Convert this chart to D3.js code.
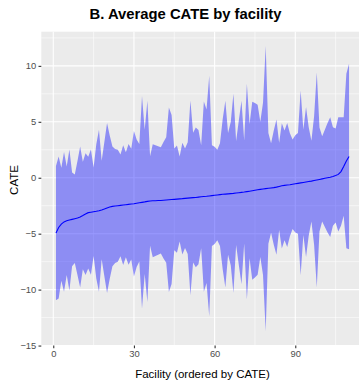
<!DOCTYPE html>
<html>
<head>
<meta charset="utf-8">
<script src="https://cdn.jsdelivr.net/npm/d3@7"></script>
<style>
  html, body { margin: 0; padding: 0; background: #fff; }
  svg { display: block; font-family: "Liberation Sans", Arial, sans-serif; }
</style>
</head>
<body>
<svg id="chart" width="359" height="382"></svg>
<script>
// Facility-level average CATE (sorted) and half-width of its interval
const cate = [
  -4.95,-4.45,-4.15,-3.95,-3.85,-3.78,-3.72,-3.66,-3.60,-3.50,
  -3.38,-3.25,-3.12,-3.08,-3.04,-3.00,-2.95,-2.88,-2.80,-2.70,
  -2.62,-2.56,-2.53,-2.50,-2.47,-2.44,-2.41,-2.38,-2.35,-2.32,
  -2.28,-2.24,-2.20,-2.16,-2.11,-2.08,-2.06,-2.05,-2.04,-2.03,
  -2.01,-1.99,-1.97,-1.95,-1.93,-1.91,-1.89,-1.87,-1.84,-1.82,
  -1.80,-1.78,-1.76,-1.73,-1.70,-1.68,-1.66,-1.63,-1.60,-1.57,
  -1.54,-1.51,-1.48,-1.46,-1.44,-1.42,-1.40,-1.37,-1.34,-1.31,
  -1.28,-1.24,-1.20,-1.16,-1.12,-1.08,-1.04,-1.00,-0.97,-0.94,
  -0.91,-0.88,-0.84,-0.78,-0.72,-0.68,-0.65,-0.62,-0.58,-0.54,
  -0.50,-0.46,-0.42,-0.38,-0.34,-0.30,-0.25,-0.20,-0.15,-0.10,
  -0.05, 0.00, 0.05, 0.12, 0.20, 0.30, 0.55, 1.00, 1.50, 1.90
];
const ciHalf = [
  6.00,6.35,5.05,6.25,4.85,6.30,4.20,3.95,5.10,6.30,
  4.80,5.45,5.00,5.60,3.95,6.00,7.25,4.40,6.00,7.60,
  6.40,5.35,5.10,5.00,4.55,5.35,4.70,5.40,4.95,6.50,
  5.70,5.25,9.50,6.45,9.00,4.00,5.05,4.95,4.85,4.75,
  5.20,5.60,8.25,7.55,4.55,4.80,3.80,5.00,4.45,5.00,
  8.70,5.80,6.25,6.00,4.60,8.50,7.75,10.75,4.50,4.35,
  4.05,4.60,6.70,8.35,5.45,6.40,8.90,4.65,6.45,8.20,
  4.60,9.65,6.00,7.95,7.80,7.60,6.05,7.70,12.75,4.95,
  4.00,5.10,6.05,3.90,5.60,4.90,5.55,4.60,4.00,4.35,
  4.50,8.25,4.70,6.70,4.85,3.60,5.75,9.60,4.65,3.80,
  4.35,4.90,5.35,4.40,4.20,5.10,4.85,4.40,7.80,8.30
];
const facility = d3.range(1, cate.length + 1);
const xTicks = [0, 30, 60, 90];
const xMinor = [15, 45, 75, 105];
const yTicks = [-15, -10, -5, 0, 5, 10];
const yMinor = [-12.5, -7.5, -2.5, 2.5, 7.5, 12.5];
const titleText = "B. Average CATE by facility";
const xTitle = "Facility (ordered by CATE)";
const yTitle = "CATE";

const rows = facility.map((f, i) => ({
  f, est: cate[i], lo: cate[i] - ciHalf[i], hi: cate[i] + ciHalf[i]
}));

const svg = d3.select("#chart");
const panel = { left: 41.3, top: 31.7, bottom: 345.5 };

// ggplot-style 5% expansion on both axes
const xExt = d3.extent(facility);
const xPad = (xExt[1] - xExt[0]) * 0.05;
const x = d3.scaleLinear()
  .domain([xExt[0] - xPad, xExt[1] + xPad])
  .range([panel.left, panel.left + 119.9 * 2.689]);

const yLo = d3.min(rows, d => d.lo), yHi = d3.max(rows, d => d.hi);
const yPad = (yHi - yLo) * 0.05;
const y = d3.scaleLinear()
  .domain([yLo - yPad, yHi + yPad])
  .range([panel.bottom, panel.top]);

const pRight = x.range()[1];

svg.append("rect")
  .attr("x", panel.left).attr("y", panel.top)
  .attr("width", pRight - panel.left).attr("height", panel.bottom - panel.top)
  .attr("fill", "#EBEBEB");

const grid = svg.append("g");
grid.selectAll(".ymin").data(yMinor).join("line")
  .attr("x1", panel.left).attr("x2", pRight)
  .attr("y1", d => y(d)).attr("y2", d => y(d))
  .attr("stroke", "#fff").attr("stroke-width", 0.55);
grid.selectAll(".xmin").data(xMinor).join("line")
  .attr("y1", panel.top).attr("y2", panel.bottom)
  .attr("x1", d => x(d)).attr("x2", d => x(d))
  .attr("stroke", "#fff").attr("stroke-width", 0.55);
grid.selectAll(".ymaj").data(yTicks).join("line")
  .attr("x1", panel.left).attr("x2", pRight)
  .attr("y1", d => y(d)).attr("y2", d => y(d))
  .attr("stroke", "#fff").attr("stroke-width", 1.1);
grid.selectAll(".xmaj").data(xTicks).join("line")
  .attr("y1", panel.top).attr("y2", panel.bottom)
  .attr("x1", d => x(d)).attr("x2", d => x(d))
  .attr("stroke", "#fff").attr("stroke-width", 1.1);

// interval ribbon
svg.append("path")
  .datum(rows)
  .attr("d", d3.area().x(d => x(d.f)).y0(d => y(d.lo)).y1(d => y(d.hi)))
  .attr("fill", "#0000FF").attr("fill-opacity", 0.4);

// point estimates
svg.append("path")
  .datum(rows)
  .attr("d", d3.line().x(d => x(d.f)).y(d => y(d.est)))
  .attr("fill", "none").attr("stroke", "#0000FF").attr("stroke-width", 1.1);

const fmt = v => v < 0 ? "\u2212" + Math.abs(v) : String(v);

// y axis
const yAxis = svg.append("g").attr("transform", `translate(${panel.left},0)`)
  .call(d3.axisLeft(y).tickValues(yTicks).tickSize(2.8).tickPadding(2.2).tickFormat(fmt));
yAxis.select(".domain").remove();
yAxis.selectAll("line").attr("stroke", "#333").attr("stroke-width", 1.1);
yAxis.selectAll("text").attr("fill", "#4D4D4D").attr("font-size", "9.4px")
  .attr("font-family", "Liberation Sans, Arial, sans-serif");

// x axis
const xAxis = svg.append("g").attr("transform", `translate(0,${panel.bottom})`)
  .call(d3.axisBottom(x).tickValues(xTicks).tickSize(2.8).tickPadding(2.2).tickFormat(fmt));
xAxis.select(".domain").remove();
xAxis.selectAll("line").attr("stroke", "#333").attr("stroke-width", 1.1);
xAxis.selectAll("text").attr("fill", "#4D4D4D").attr("font-size", "9.4px")
  .attr("font-family", "Liberation Sans, Arial, sans-serif");

// titles
svg.append("text").attr("x", 185.5).attr("y", 18.5)
  .attr("text-anchor", "middle").attr("font-weight", "bold")
  .attr("font-size", "14.8px").attr("fill", "#000").text(titleText);

svg.append("text").attr("x", (panel.left + pRight) / 2).attr("y", 378)
  .attr("text-anchor", "middle").attr("font-size", "11.5px")
  .attr("fill", "#000").text(xTitle);

svg.append("text")
  .attr("transform", `translate(17.8,180) rotate(-90)`)
  .attr("text-anchor", "middle").attr("font-size", "11.5px")
  .attr("fill", "#000").text(yTitle);
</script>
</body>
</html>
